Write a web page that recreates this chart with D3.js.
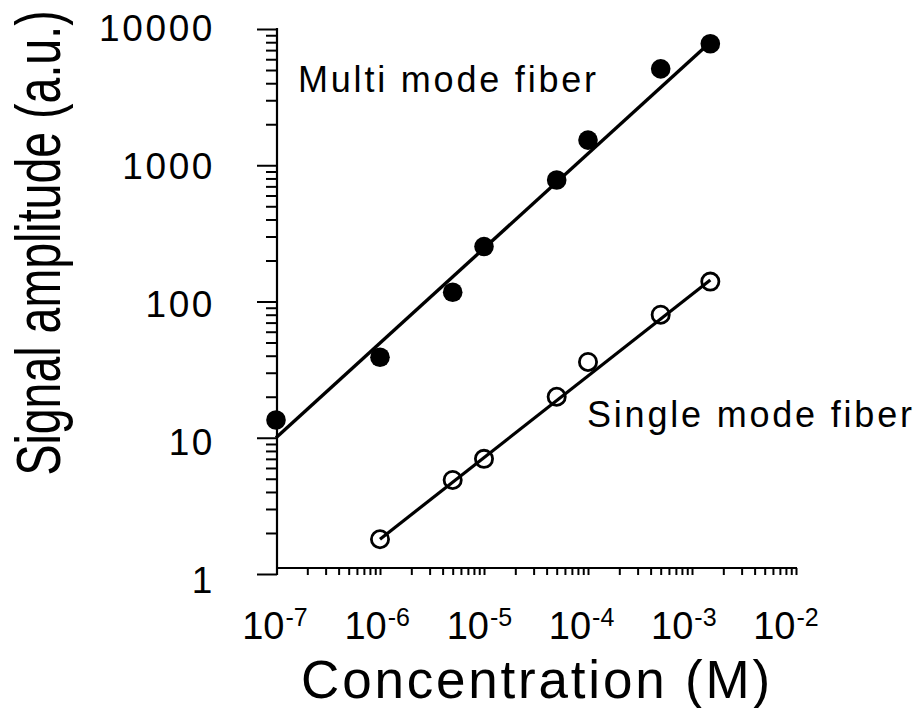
<!DOCTYPE html>
<html>
<head>
<meta charset="utf-8">
<script src="https://cdn.jsdelivr.net/npm/d3@7"></script>
<style>
  html, body { margin: 0; padding: 0; background: #fff; }
  svg { display: block; }
  text { font-family: "Liberation Sans", Arial, Helvetica, sans-serif; fill: #000; }
</style>
</head>
<body>
<svg id="chart" width="919" height="708"></svg>
<script>
// ---- data ----
const multiConc   = [1e-7, 1e-6, 5e-6, 1e-5, 5e-5, 1e-4, 5e-4, 1.5e-3];
const multiSignal = [13.5, 39, 117, 253, 780, 1530, 5100, 7800];
const singleConc   = [1e-6, 5e-6, 1e-5, 5e-5, 1e-4, 5e-4, 1.5e-3];
const singleSignal = [1.8, 4.9, 7, 20, 36, 80, 140];
// fitted lines (end points)
const multiFitConc   = [1e-7, 1.5e-3];
const multiFitSignal = [10, 8000];
const singleFitConc   = [1e-6, 1.5e-3];
const singleFitSignal = [1.8, 144];
// axes
const xDomain = [1e-7, 1e-2];
const yDomain = [1, 10000];
const xMajorExp = [-7, -6, -5, -4, -3, -2];
const yMajorTicks = [1, 10, 100, 1000, 10000];
const yTickLabels = ["1", "10", "100", "1000", "10000"];
const seriesLabels = ["Multi mode fiber", "Single mode fiber"];
const xTitle = "Concentration (M)";
const yTitle = "Signal amplitude (a.u.)";

// ---- layout ----
const svg = d3.select("#chart");
const x = d3.scaleLog().domain(xDomain).range([276, 796]);
const y = d3.scaleLog().domain(yDomain).range([574, 29]);
const xLab = d3.scaleLog().domain(xDomain).range([275, 786]);
const yLab = d3.scaleLog().domain(yDomain).range([580, 27.5]);

function minorTicks(lo, hi) {
  const out = [];
  for (let e = Math.round(Math.log10(lo)); e < Math.round(Math.log10(hi)); e++) {
    for (let m = 1; m <= 9; m++) out.push(m * Math.pow(10, e));
  }
  out.push(hi);
  return out;
}

// Y axis: minor + major ticks
const yMinor = minorTicks(1, 10000).filter(v => !yMajorTicks.includes(v));
const yAxisMinor = svg.append("g").attr("transform", "translate(277,0)")
  .call(d3.axisLeft(y).tickValues(yMinor).tickSize(11).tickFormat(""));
const yAxisMajor = svg.append("g").attr("transform", "translate(277,0)")
  .call(d3.axisLeft(y).tickValues(yMajorTicks).tickSize(20).tickFormat(""));
[yAxisMinor, yAxisMajor].forEach(g => {
  g.select(".domain").remove();
  g.selectAll(".tick line").attr("stroke", "#000").attr("stroke-width", 2);
});
svg.append("line").attr("x1", 277).attr("x2", 277)
  .attr("y1", y(10000) - 1).attr("y2", y(1) + 1)
  .attr("stroke", "#000").attr("stroke-width", 2.2);

// Y tick labels
svg.append("g").selectAll("text").data(yMajorTicks).join("text")
  .attr("x", 215)
  .attr("y", d => yLab(d) + 13)
  .attr("text-anchor", "end")
  .attr("font-size", 37)
  .attr("letter-spacing", 2.6)
  .text((d, i) => yTickLabels[i]);

// X axis
const xTicks = minorTicks(1e-7, 1e-2).filter(v => v > 1.01e-7);
const xAxis = svg.append("g").attr("transform", "translate(0,568)")
  .call(d3.axisBottom(x).tickValues(xTicks).tickSize(7).tickFormat(""));
xAxis.select(".domain").remove();
xAxis.selectAll(".tick line").attr("stroke", "#000").attr("stroke-width", 2);
svg.append("line").attr("x1", 277).attr("x2", x(1e-2) + 1)
  .attr("y1", 568).attr("y2", 568)
  .attr("stroke", "#000").attr("stroke-width", 2);

// X tick labels 10^n
const xl = svg.append("g").selectAll("text").data(xMajorExp).join("text")
  .attr("x", d => xLab(Math.pow(10, d)))
  .attr("y", 639)
  .attr("text-anchor", "middle")
  .attr("font-size", 38);
xl.append("tspan").text("10");
xl.append("tspan").attr("dy", -13).attr("dx", 1).attr("font-size", 25).text(d => String(d));

// Axis titles
svg.append("text")
  .attr("x", 537).attr("y", 698)
  .attr("text-anchor", "middle")
  .attr("font-size", 53)
  .attr("letter-spacing", 2.8)
  .text(xTitle);
svg.append("text")
  .attr("transform", "translate(60,243) rotate(-90) scale(0.93,1.24)")
  .attr("text-anchor", "middle")
  .attr("font-size", 50)
  .text(yTitle);

// Fit lines
const line = d3.line().x(d => x(d[0])).y(d => y(d[1]));
svg.append("path").datum(d3.zip(multiFitConc, multiFitSignal))
  .attr("d", line).attr("fill", "none").attr("stroke", "#000").attr("stroke-width", 3.4);
svg.append("path").datum(d3.zip(singleFitConc, singleFitSignal))
  .attr("d", line).attr("fill", "none").attr("stroke", "#000").attr("stroke-width", 3.2);

// Markers
svg.append("g").selectAll("circle").data(d3.zip(multiConc, multiSignal)).join("circle")
  .attr("cx", d => x(d[0])).attr("cy", d => y(d[1])).attr("r", 9.8).attr("fill", "#000");
svg.append("g").selectAll("circle").data(d3.zip(singleConc, singleSignal)).join("circle")
  .attr("cx", d => x(d[0])).attr("cy", d => y(d[1])).attr("r", 8.6)
  .attr("fill", "none").attr("stroke", "#000").attr("stroke-width", 2.8);

// Series labels
svg.append("text").attr("x", 298).attr("y", 92)
  .attr("font-size", 36).attr("letter-spacing", 2.8).text(seriesLabels[0]);
svg.append("text").attr("x", 587).attr("y", 427)
  .attr("font-size", 36).attr("letter-spacing", 2.8).text(seriesLabels[1]);
</script>
</body>
</html>
